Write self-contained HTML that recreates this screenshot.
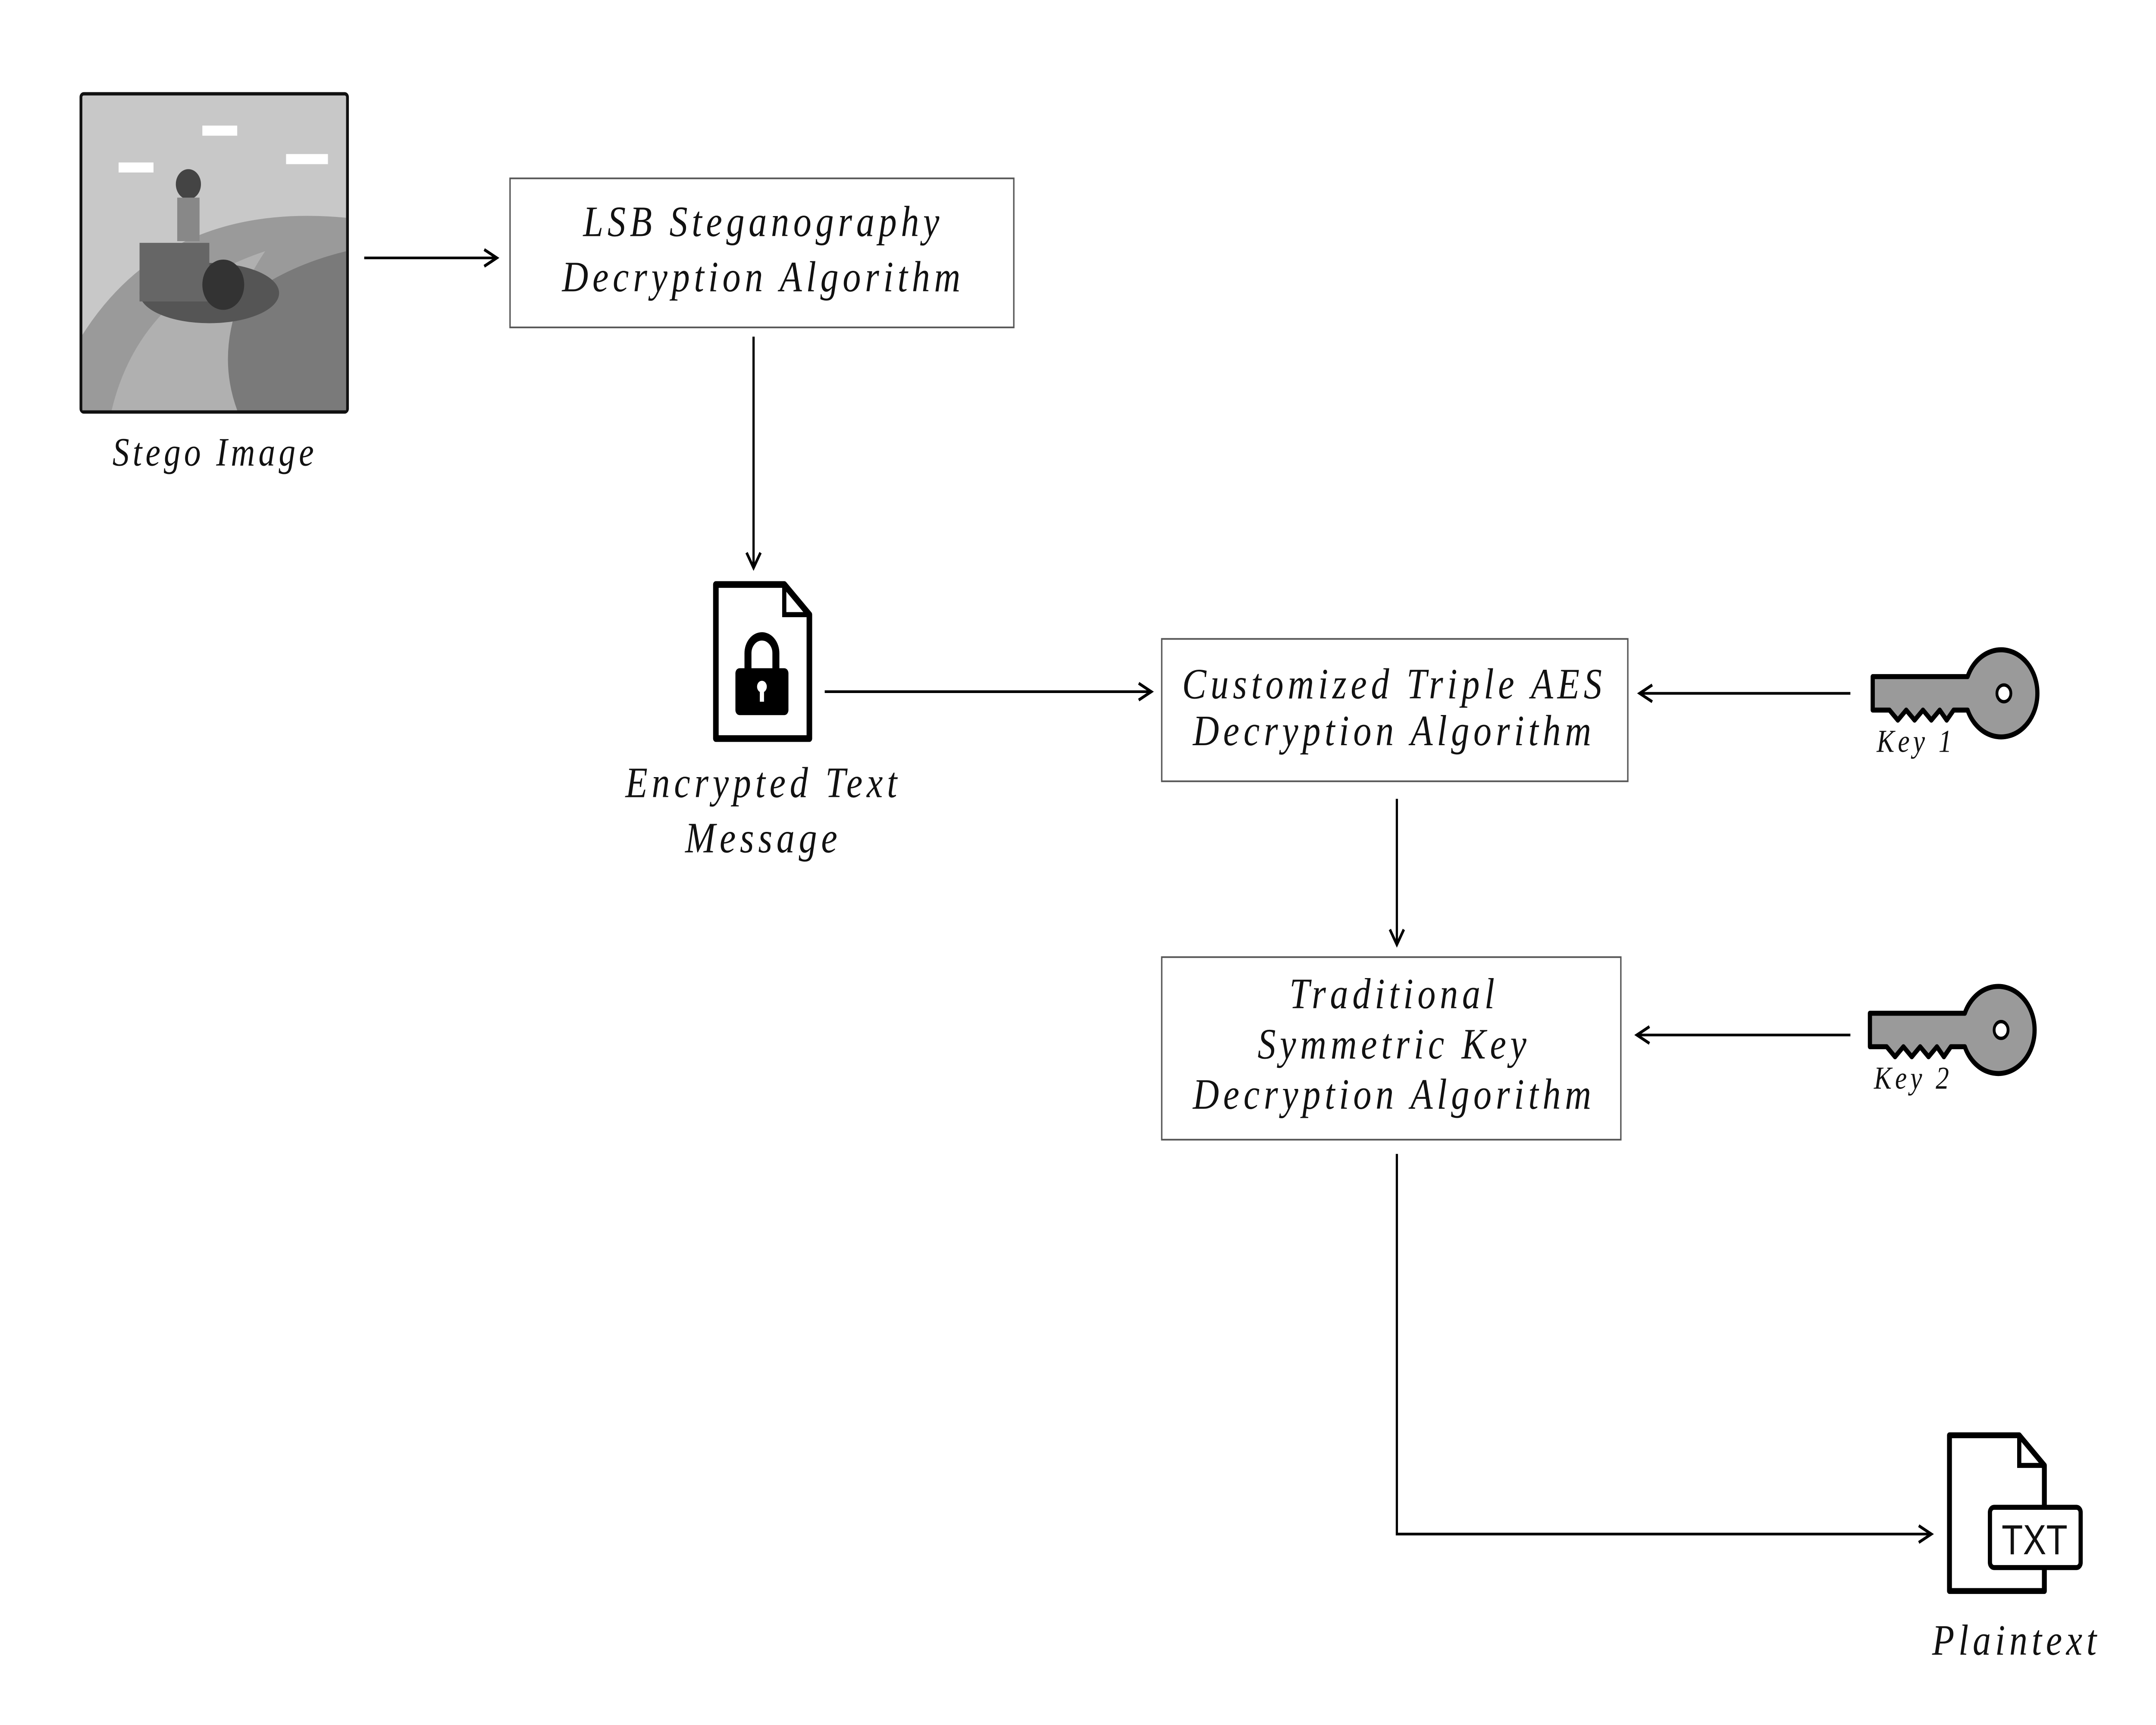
<!DOCTYPE html>
<html><head><style>html,body{margin:0;padding:0;background:#fff;overflow:hidden;width:100vw;height:100vh}svg{display:block;width:100vw;height:100vh}</style></head>
<body>
<svg viewBox="0 0 1545 1030" preserveAspectRatio="none" xmlns="http://www.w3.org/2000/svg">
<defs>
<marker id="a" markerWidth="12" markerHeight="12" refX="10" refY="6" orient="auto" markerUnits="userSpaceOnUse">
<path d="M1,1 L10,6 L1,11" fill="none" stroke="#000" stroke-width="1.8"/>
</marker>
</defs>
<g font-family="Liberation Serif, serif" font-style="italic" fill="#111" text-anchor="middle">
<rect x="58" y="56" width="191" height="190" fill="#c8c8c8" stroke="#111" stroke-width="2" rx="2"/>
<path d="M59,200 Q120,120 248,130 L248,245 L59,245 Z" fill="#9a9a9a"/>
<path d="M120,245 Q150,170 248,150 L248,245 Z" fill="#7a7a7a"/>
<path d="M80,245 Q100,175 190,150 Q150,200 170,245 Z" fill="#b0b0b0"/>
<ellipse cx="150" cy="175" rx="50" ry="18" fill="#555"/>
<rect x="100" y="145" width="50" height="35" fill="#666"/>
<circle cx="160" cy="170" r="15" fill="#333"/>
<circle cx="135" cy="110" r="9" fill="#444"/>
<rect x="127" y="118" width="16" height="26" fill="#888"/>
<path d="M85,100 h25 M145,78 h25 M205,95 h30" stroke="#fff" stroke-width="6"/>
<text x="154" y="278" font-size="24" letter-spacing="2.5">Stego Image</text>
<line x1="261" y1="154" x2="356" y2="154" stroke="#000" stroke-width="1.6" marker-end="url(#a)"/>
<rect x="365.5" y="106.5" width="361" height="89" fill="#fff" stroke="#555" stroke-width="1"/>
<text x="547" y="141" font-size="26" letter-spacing="3">LSB Steganography</text>
<text x="547" y="174" font-size="26" letter-spacing="3">Decryption Algorithm</text>
<line x1="540" y1="201" x2="540" y2="339" stroke="#000" stroke-width="1.6" marker-end="url(#a)"/>
<path d="M513,349 H562 L580,367 V441 H513 Z" fill="#fff" stroke="#000" stroke-width="4" stroke-linejoin="round"/>
<path d="M562,349 V367 H580" fill="none" stroke="#000" stroke-width="3"/>
<path d="M536,400 V390 A10,10 0 0 1 556,390 V400" fill="none" stroke="#000" stroke-width="5"/>
<rect x="527" y="399" width="38" height="28" rx="3" fill="#000"/>
<circle cx="546" cy="410" r="3.5" fill="#fff"/><rect x="544.5" y="411" width="3" height="8" fill="#fff"/>
<text x="547" y="476" font-size="26" letter-spacing="3">Encrypted Text</text>
<text x="547" y="509" font-size="26" letter-spacing="3">Message</text>
<line x1="591" y1="413" x2="825" y2="413" stroke="#000" stroke-width="1.6" marker-end="url(#a)"/>
<rect x="832.5" y="381.5" width="334" height="85" fill="#fff" stroke="#555" stroke-width="1"/>
<text x="999" y="417" font-size="26" letter-spacing="3">Customized Triple AES</text>
<text x="999" y="445" font-size="26" letter-spacing="3">Decryption Algorithm</text>
<line x1="1326" y1="414" x2="1175" y2="414" stroke="#000" stroke-width="1.6" marker-end="url(#a)"/>
<g transform="translate(1340,388)">
<path d="M2,16 H70 A26,26 0 1 1 70,36 L60,36 L55,42 L50,36 L44,42 L38,36 L32,42 L26,36 L20,42 L14,36 H2 Z" fill="#9a9a9a" stroke="#000" stroke-width="3" stroke-linejoin="round"/>
<circle cx="96" cy="26" r="5" fill="#fff" stroke="#000" stroke-width="2"/>
</g>
<text x="1373" y="449" font-size="19" letter-spacing="2.5">Key 1</text>
<line x1="1001" y1="477" x2="1001" y2="564" stroke="#000" stroke-width="1.6" marker-end="url(#a)"/>
<rect x="832.5" y="571.5" width="329" height="109" fill="#fff" stroke="#555" stroke-width="1"/>
<text x="999" y="602" font-size="26" letter-spacing="3">Traditional</text>
<text x="999" y="632" font-size="26" letter-spacing="3">Symmetric Key</text>
<text x="999" y="662" font-size="26" letter-spacing="3">Decryption Algorithm</text>
<line x1="1326" y1="618" x2="1173" y2="618" stroke="#000" stroke-width="1.6" marker-end="url(#a)"/>
<g transform="translate(1338,589)">
<path d="M2,16 H70 A26,26 0 1 1 70,36 L60,36 L55,42 L50,36 L44,42 L38,36 L32,42 L26,36 L20,42 L14,36 H2 Z" fill="#9a9a9a" stroke="#000" stroke-width="3" stroke-linejoin="round"/>
<circle cx="96" cy="26" r="5" fill="#fff" stroke="#000" stroke-width="2"/>
</g>
<text x="1371" y="650" font-size="19" letter-spacing="2.5">Key 2</text>
<polyline points="1001,689 1001,916 1384,916" fill="none" stroke="#000" stroke-width="1.6" marker-end="url(#a)"/>
<path d="M1397,857 H1447 L1465,875 V950 H1397 Z" fill="#fff" stroke="#000" stroke-width="3.5" stroke-linejoin="round"/>
<path d="M1447,857 V875 H1465" fill="none" stroke="#000" stroke-width="3"/>
<rect x="1426" y="900" width="65" height="36" rx="3" fill="#fff" stroke="#000" stroke-width="3"/>
<text x="1458" y="928" font-size="25" font-style="normal" font-family="Liberation Sans, sans-serif">TXT</text>
<text x="1445" y="988" font-size="26" letter-spacing="3">Plaintext</text>
</g>
</svg>
</body></html>
